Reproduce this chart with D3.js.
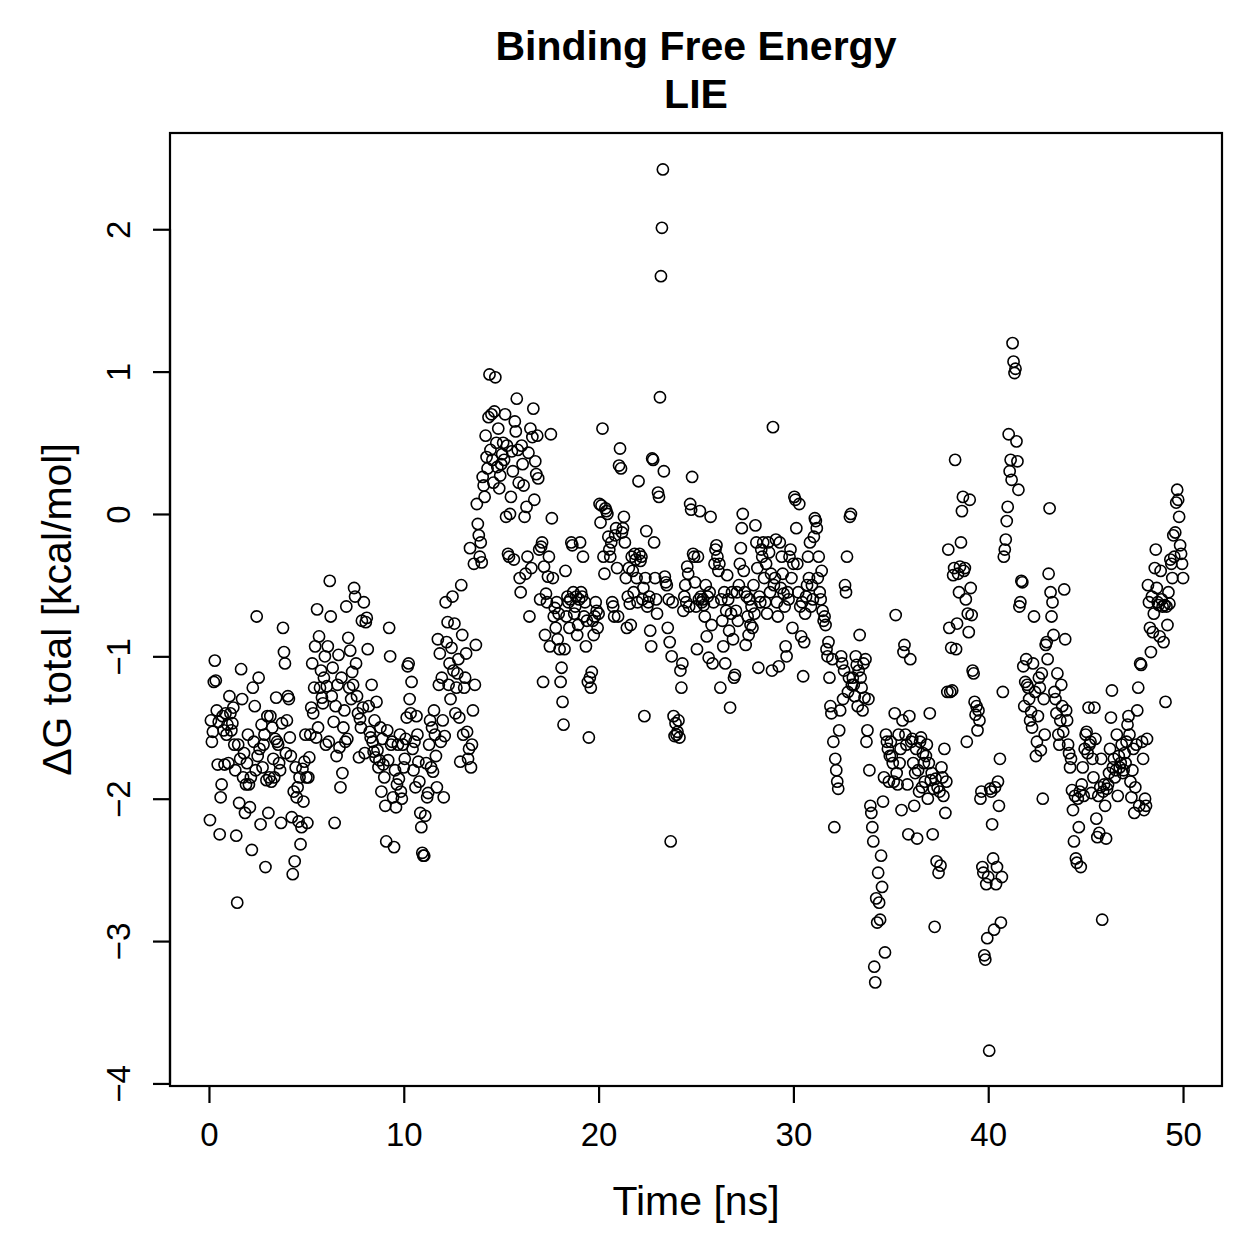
<!DOCTYPE html>
<html>
<head>
<meta charset="utf-8">
<script src="https://cdn.jsdelivr.net/npm/d3@7.9.0/dist/d3.min.js"></script>
<style>
  body { margin: 0; background: #fff; }
  svg { display: block; font-family: "Liberation Sans", Arial, Helvetica, sans-serif; }
</style>
</head>
<body>
<svg id="chart" width="1259" height="1259"></svg>
<script>
// sampling step of the trajectory (ns)
const stepNs = 0.05;

// ΔG total [kcal/mol], 20 frames per ns
const dg0to10 = [
  -2.15,-1.45,-1.6,-1.53,-1.18,-1.03,-1.17,-1.38,-1.76,-1.46,-2.25,-1.99,-1.9,-1.42,-1.52,-1.76,-1.4,-1.55,-1.48,-1.75,
  -1.28,-1.4,-1.52,-1.47,-1.36,-1.62,-1.8,-2.26,-2.73,-1.62,-2.03,-1.72,-1.09,-1.3,-1.85,-1.68,-2.1,-1.9,-1.75,-1.55,
  -1.9,-2.06,-1.85,-2.36,-1.22,-1.6,-1.35,-1.8,-0.72,-1.7,-1.15,-1.65,-2.18,-1.48,-1.78,-1.62,-1.55,-2.48,-1.87,-1.42,
  -2.1,-1.85,-1.42,-1.88,-1.5,-1.72,-1.85,-1.58,-1.29,-1.6,-1.62,-1.75,-1.8,-2.17,-1.47,-0.8,-0.97,-1.05,-1.68,-1.45,
  -1.28,-1.3,-1.57,-1.7,-2.13,-2.53,-1.95,-2.44,-1.78,-1.99,-1.92,-2.16,-1.85,-2.32,-2.2,-1.79,-2.02,-1.74,-1.55,-1.85,
  -2.17,-1.85,-1.71,-1.55,-1.36,-1.05,-1.4,-1.22,-0.93,-1.57,-0.67,-1.5,-0.86,-1.22,-1.1,-1.29,-1.33,-1.15,-1.0,-1.62,
  -1.21,-0.93,-1.6,-0.47,-0.72,-1.28,-1.08,-1.46,-2.17,-1.35,-1.7,-1.2,-0.99,-1.64,-1.92,-1.15,-1.82,-1.5,-1.38,-1.6,
  -0.65,-1.58,-0.87,-1.22,-0.96,-1.3,-1.11,-1.2,-0.52,-0.58,-1.05,-1.28,-1.4,-1.71,-1.44,-1.5,-0.75,-1.36,-0.62,-1.68,
  -0.76,-0.73,-0.95,-1.35,-1.53,-1.57,-1.2,-1.6,-1.67,-1.45,-1.71,-1.32,-1.66,-1.78,-1.73,-1.5,-1.95,-1.58,-1.76,-1.85,
  -2.05,-2.3,-1.52,-1.73,-0.8,-1.0,-1.62,-1.6,-1.99,-2.34,-1.8,-2.06,-1.9,-1.62,-1.86,-1.55,-1.95,-2.0,-1.62,-1.78
];
const dg10to20 = [
  -1.72,-1.58,-1.43,-1.07,-1.05,-1.3,-1.4,-1.18,-1.65,-1.8,-1.6,-1.92,-1.42,-1.55,-1.74,-1.88,-2.1,-2.2,-2.38,-2.4,
  -2.4,-2.12,-1.75,-1.99,-1.96,-1.62,-1.45,-1.78,-1.5,-1.81,-1.38,-1.55,-1.7,-1.92,-0.88,-1.2,-0.98,-1.6,-1.15,-1.45,
  -1.99,-1.56,-0.62,-0.9,-0.76,-1.2,-1.05,-1.3,-0.94,-0.58,-1.1,-0.77,-1.4,-1.22,-1.12,-1.02,-1.43,-1.74,-0.5,-0.85,
  -1.55,-1.22,-1.15,-0.98,-1.53,-1.72,-1.65,-0.24,-1.78,-1.62,-1.38,-0.35,-1.2,-0.92,0.07,-0.07,-0.15,-0.3,-0.2,-0.34,
  0.26,0.2,0.12,0.55,0.4,0.32,0.68,0.98,0.45,0.7,0.38,0.22,0.72,0.96,0.5,0.33,0.6,0.18,0.27,0.35,
  0.42,0.5,0.38,0.7,-0.02,0.48,-0.28,-0.3,0.0,0.12,0.44,0.3,-0.32,0.65,0.58,0.81,0.45,0.22,-0.45,-0.55,
  0.48,0.35,0.2,-0.02,-0.42,0.05,-0.3,0.43,-0.72,0.6,-0.38,0.54,0.74,0.1,0.37,0.28,0.55,0.25,-0.25,-0.6,
  -0.23,-0.2,-1.18,-0.37,-0.85,-0.56,-0.62,-0.44,-0.3,-0.93,0.56,-0.03,-0.45,-0.72,-0.66,-0.8,-0.62,-0.88,-0.7,-0.95,
  -1.18,-1.08,-1.32,-1.48,-0.95,-0.4,-0.72,-0.58,-0.62,-0.8,-0.6,-0.2,-0.22,-0.55,-0.7,-0.65,-0.58,-0.85,-0.78,-0.6,
  -0.2,-0.55,-0.58,-0.3,-0.72,-0.62,-0.93,-0.75,-1.18,-1.57,-1.15,-1.22,-1.11,-0.75,-0.85,-0.72,-0.62,-0.68,-0.8,-0.7
];
const dg20to30 = [
  0.07,-0.06,0.06,0.6,-0.3,-0.42,0.04,0.02,0.0,-0.16,-0.25,-0.3,-0.2,-0.62,-0.65,-0.72,-0.15,-0.1,-0.38,-0.72,
  0.34,0.46,0.32,-0.13,-0.1,-0.02,-0.2,-0.45,-0.8,-0.58,-0.38,-0.63,-0.78,-0.3,-0.4,-0.55,-0.28,-0.32,-0.45,-0.62,
  0.23,-0.28,-0.33,-0.3,-0.6,-0.52,-1.42,-0.45,-0.12,-0.65,-0.62,-0.58,-0.82,-0.93,0.39,0.38,-0.2,-0.45,-0.6,-0.7,
  0.15,0.12,0.82,1.67,2.01,2.42,0.3,-0.44,-0.48,-0.5,-0.8,-0.6,-0.9,-2.3,-1.0,-0.62,-1.42,-1.56,-1.47,-1.55,
  -1.53,-1.45,-1.57,-1.1,-1.22,-1.05,-0.68,-0.58,-0.5,-0.62,-0.37,-0.42,-0.65,0.07,0.03,0.26,-0.28,-0.3,-0.48,-0.65,
  -0.95,-0.3,-0.6,0.02,-0.58,-0.62,-0.6,-0.64,-0.72,-0.5,-0.86,-0.58,-1.01,-0.55,-0.02,-0.78,-1.05,-0.62,-0.35,-0.25,
  -0.22,-0.3,-0.4,-0.35,-1.22,-0.6,-0.75,-0.93,-0.55,-1.05,-0.68,-0.43,-0.6,-0.82,-1.36,-0.7,-0.55,-0.88,-1.15,-1.13,
  -0.68,-0.55,-0.75,-0.5,-0.35,-0.24,-0.1,0.0,-0.4,-0.55,-0.92,-0.58,-0.72,-0.85,-0.6,-0.78,-0.65,-0.8,-0.5,-0.7,
  -0.08,-0.2,-0.38,-1.08,-0.58,-0.62,-0.25,-0.3,-0.2,-0.45,-0.62,-0.35,-0.7,-0.2,-0.27,-0.55,-0.42,-1.1,0.61,-0.5,
  -0.45,-0.18,-0.62,-0.72,-1.07,-0.2,-0.52,-0.3,-0.42,-0.56,-0.65,-0.93,-1.0,-0.55,-0.6,-0.3,-0.25,-0.45,-0.8,-0.35
];
const dg30to40 = [
  0.12,0.1,-0.1,-0.35,-0.55,0.07,-0.65,-0.86,-0.62,-1.14,-0.9,-0.7,-0.58,-0.5,-0.3,-0.45,-0.2,-0.65,-0.5,-0.6,
  -0.16,-0.03,-0.05,-0.1,-0.45,-0.3,-0.55,-0.6,-0.4,-0.68,-0.75,-0.72,-0.78,-0.95,-1.0,-0.9,-1.15,-1.35,-1.4,-1.02,
  -1.6,-2.2,-1.72,-1.8,-1.88,-1.93,-1.52,-1.38,-1.0,-1.05,-1.3,-1.1,-0.5,-0.55,-0.3,-1.25,-1.15,-0.02,0.0,-1.2,
  -1.15,-1.2,-1.28,-1.0,-1.06,-1.35,-1.1,-0.85,-1.15,-1.22,-1.38,-1.05,-1.29,-1.02,-1.6,-1.52,-1.3,-1.8,-2.05,-2.1,
  -2.2,-2.3,-3.18,-3.29,-2.7,-2.87,-2.52,-2.73,-2.85,-2.4,-2.62,-2.02,-1.85,-3.08,-1.55,-1.6,-1.65,-1.88,-1.7,-1.6,
  -1.7,-1.75,-1.88,-1.4,-0.71,-1.82,-1.9,-1.55,-1.75,-1.65,-2.08,-1.45,-0.97,-0.92,-1.55,-1.62,-1.9,-2.25,-1.42,-1.02,
  -1.6,-1.58,-1.75,-2.05,-1.82,-1.65,-2.28,-1.8,-1.95,-1.6,-1.57,-1.92,-1.68,-1.75,-1.88,-1.7,-1.62,-2.0,-1.75,-1.4,
  -1.87,-1.82,-2.25,-1.93,-2.9,-1.86,-2.44,-1.92,-2.52,-1.95,-2.47,-1.78,-1.85,-1.98,-1.65,-2.1,-1.88,-1.25,-0.25,-0.8,
  -1.25,-0.94,-1.24,-0.43,-0.38,0.38,-0.95,-0.77,-0.42,-0.55,-0.37,-0.2,0.02,0.12,-0.4,-0.38,-0.6,-1.6,-0.7,-0.83,
  0.1,-0.52,-0.71,-1.1,-1.12,-1.32,-1.41,-1.35,-1.52,-1.38,-1.45,-2.0,-1.95,-2.48,-2.52,-3.1,-3.13,-2.6,-2.98,-2.55
];
const dg40to50 = [
  -3.77,-1.93,-1.95,-2.18,-2.42,-2.92,-1.92,-2.6,-2.48,-1.88,-2.05,-1.72,-2.87,-2.55,-1.25,-0.3,-0.25,-0.18,-0.05,0.05,
  0.56,0.3,0.38,0.24,1.2,1.07,0.99,1.02,0.51,0.37,0.17,-0.65,-0.62,-0.47,-0.48,-1.07,-1.35,-1.18,-1.02,-1.2,
  -1.22,-1.3,-1.45,-1.39,-1.5,-1.05,-0.72,-1.25,-1.7,-1.6,-1.42,-1.15,-1.22,-1.66,-1.12,-2.0,-1.3,-1.55,-0.92,-0.9,
  -1.02,-0.42,0.04,-0.55,-0.72,-0.62,-0.85,-1.25,-1.3,-1.4,-1.12,-1.55,-1.62,-1.45,-1.2,-1.35,-1.53,-0.53,-0.88,-1.38,
  -1.45,-1.62,-1.68,-1.78,-1.72,-1.94,-2.08,-2.3,-1.98,-2.42,-2.45,-2.0,-2.2,-1.95,-2.48,-1.9,-1.78,-1.98,-1.65,-1.55,
  -1.53,-1.68,-1.36,-1.62,-1.6,-1.96,-1.72,-1.85,-1.36,-1.58,-2.14,-2.27,-1.98,-2.24,-1.92,-1.72,-2.85,-1.95,-1.9,-2.05,
  -2.28,-1.93,-1.9,-1.82,-1.65,-1.43,-1.24,-1.78,-1.72,-1.85,-1.8,-1.55,-1.98,-1.7,-1.78,-1.75,-1.62,-1.82,-1.8,-1.68,
  -1.75,-1.6,-1.48,-1.42,-1.55,-1.88,-1.99,-1.8,-1.65,-2.1,-1.92,-1.62,-1.38,-1.22,-2.05,-1.05,-1.06,-1.6,-1.72,-2.08,
  -2.0,-2.05,-1.58,-0.5,-0.62,-0.8,-0.97,-0.58,-0.83,-0.7,-0.38,-0.25,-0.52,-0.62,-0.64,-0.86,-0.4,-0.6,-0.65,-0.9,
  -0.64,-1.32,-0.65,-0.78,-0.55,-0.63,-0.32,-0.35,-0.45,-0.15,-0.3,-0.13,0.08,0.17,0.1,-0.02,-0.22,-0.28,-0.35,-0.45
];

const xTicks = [0, 10, 20, 30, 40, 50];
const yTicks = [-4, -3, -2, -1, 0, 1, 2];

const dgAll = [].concat(dg0to10, dg10to20, dg20to30, dg30to40, dg40to50);
const points = dgAll.map((v, i) => ({ t: (i + 1) * stepNs, dg: v }));

const svg = d3.select('#chart');
const box = { left: 170, right: 1222, top: 133, bottom: 1086 };

const x = d3.scaleLinear().domain([-2, 52]).range([box.left, box.right]);
const y = d3.scaleLinear().domain([-4.018, 2.676]).range([box.bottom, box.top]);

// points
svg.append('g')
  .selectAll('circle')
  .data(points)
  .join('circle')
  .attr('cx', d => x(d.t))
  .attr('cy', d => y(d.dg))
  .attr('r', 5.6)
  .attr('fill', 'none')
  .attr('stroke', '#000')
  .attr('stroke-width', 1.6);

// frame
svg.append('rect')
  .attr('x', box.left).attr('y', box.top)
  .attr('width', box.right - box.left).attr('height', box.bottom - box.top)
  .attr('fill', 'none').attr('stroke', '#000').attr('stroke-width', 2.2);

// x axis, R style
const xAxis = svg.append('g')
  .attr('transform', `translate(0,${box.bottom})`)
  .call(d3.axisBottom(x).tickValues(xTicks).tickSize(17).tickSizeOuter(0).tickPadding(20));
xAxis.select('.domain')
  .attr('d', `M${x(xTicks[0])},0H${x(xTicks[xTicks.length - 1])}`)
  .attr('stroke-width', 2.2);
xAxis.selectAll('.tick line').attr('stroke-width', 2.2);
xAxis.selectAll('.tick text')
  .attr('font-size', 33).attr('font-family', 'Liberation Sans, Arial, sans-serif')
  .attr('fill', '#000');

// y axis, labels turned like R's las=0
const yAxis = svg.append('g')
  .attr('transform', `translate(${box.left},0)`)
  .call(d3.axisLeft(y).tickValues(yTicks).tickSize(17).tickSizeOuter(0).tickFormat(d3.format('d')));
yAxis.select('.domain')
  .attr('d', `M0,${y(yTicks[0])}V${y(yTicks[yTicks.length - 1])}`)
  .attr('stroke-width', 2.2);
yAxis.selectAll('.tick line').attr('stroke-width', 2.2);
yAxis.selectAll('.tick text')
  .attr('x', null).attr('dy', null)
  .attr('transform', 'translate(-40,0) rotate(-90)')
  .attr('text-anchor', 'middle')
  .attr('font-size', 33).attr('font-family', 'Liberation Sans, Arial, sans-serif')
  .attr('fill', '#000');

// titles
svg.append('text')
  .attr('x', 696).attr('y', 60)
  .attr('text-anchor', 'middle').attr('font-size', 41).attr('font-weight', 'bold')
  .text('Binding Free Energy');
svg.append('text')
  .attr('x', 696).attr('y', 108)
  .attr('text-anchor', 'middle').attr('font-size', 41).attr('font-weight', 'bold')
  .text('LIE');

svg.append('text')
  .attr('x', 696).attr('y', 1215)
  .attr('text-anchor', 'middle').attr('font-size', 41)
  .text('Time [ns]');

svg.append('text')
  .attr('transform', `translate(71,${(box.top + box.bottom) / 2}) rotate(-90)`)
  .attr('text-anchor', 'middle').attr('font-size', 41)
  .text('ΔG total [kcal/mol]');
</script>
</body>
</html>
